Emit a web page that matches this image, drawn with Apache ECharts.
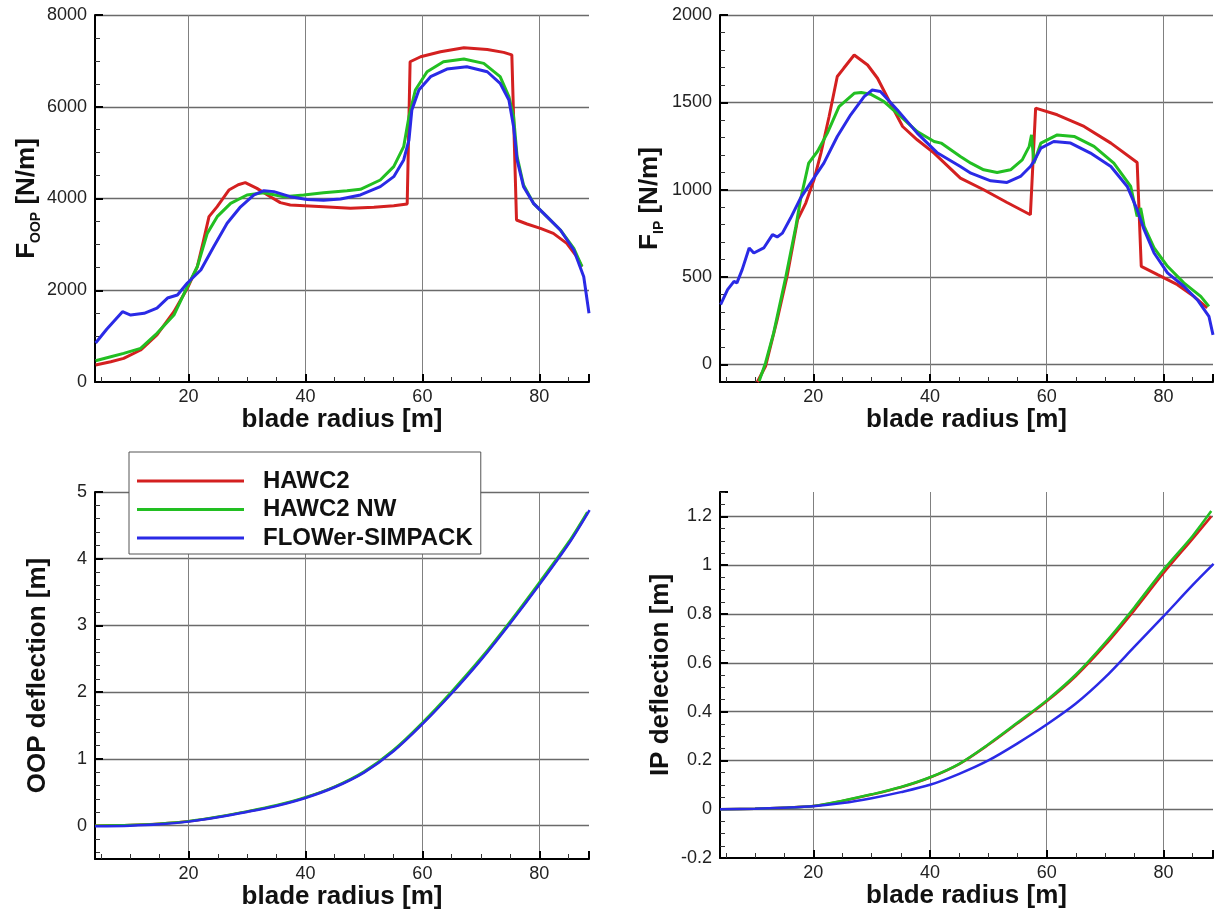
<!DOCTYPE html>
<html>
<head>
<meta charset="utf-8">
<title>Blade loads and deflections</title>
<script src="https://cdn.jsdelivr.net/npm/echarts@6/dist/echarts.min.js"></script>
<style>
  html, body { margin: 0; padding: 0; background: #fff; }
  #chart { width: 1217px; height: 910px; }
</style>
</head>
<body>
<div id="chart"></div>
<script>
// [blade radius (m), value] pairs

// F_OOP [N/m]
const foopHawc2 = [[4.1,370],[6.7,443],[8.9,516],[11.8,697],[14.6,1025],[17.5,1532],[19.8,2041],[21.5,2513],[22.5,3050],[23.5,3604],[24.9,3822],[26.9,4185],[28.5,4300],[29.7,4345],[31.7,4221],[34,4040],[35.7,3910],[37.4,3858],[43.1,3822],[47.7,3786],[51.7,3807],[55.1,3840],[57.4,3880],[57.9,6981],[59.7,7090],[63.1,7200],[67.1,7287],[71.1,7250],[73.9,7185],[75.3,7130],[76.1,3531],[77.9,3444],[80.2,3350],[82.4,3240],[84.7,3022],[86.4,2731],[87.3,2513]];
const foopHawc2Nw = [[4.1,464],[6.7,552],[8.9,625],[11.8,734],[14.6,1061],[17.5,1460],[19.8,2077],[21.5,2513],[23.2,3240],[24.9,3604],[27.2,3895],[30,4077],[32.9,4126],[36.3,4040],[39.7,4077],[43.1,4126],[47.1,4170],[49.4,4200],[52.8,4403],[55.1,4694],[56.8,5130],[57.7,5783],[58.8,6365],[60.8,6763],[63.6,6981],[67.1,7040],[70.5,6945],[73.3,6655],[74.8,6220],[75.6,5783],[76.2,4912],[77.3,4294],[79,3895],[81.3,3604],[83.6,3314],[85.9,2913],[87.3,2513]];
const foopFlower = [[4.1,850],[6,1150],[8.7,1532],[10.1,1460],[12.4,1497],[14.6,1612],[16.4,1830],[18.1,1896],[19.8,2158],[22.1,2441],[24.3,2950],[26.6,3460],[28.9,3820],[31.2,4077],[32.9,4170],[34.6,4150],[37.4,4040],[40.3,3980],[43.1,3960],[46,3990],[49.4,4077],[52.8,4258],[55.1,4476],[56.8,4840],[57.7,5275],[58.2,5930],[59.4,6365],[61.4,6655],[64.2,6822],[67.6,6872],[71.1,6763],[73.3,6510],[74.8,6147],[75.6,5565],[76.2,4840],[77.3,4258],[79,3895],[81.3,3604],[83.6,3314],[85.9,2877],[87.6,2295],[88.5,1497]];

// F_IP [N/m]
const fipHawc2 = [[10.4,-100],[11.8,-10],[13.8,257],[15.5,505],[17.3,829],[18.7,924],[20.1,1057],[21.3,1210],[22.7,1419],[24.1,1648],[25.2,1695],[27,1771],[29.3,1714],[31,1638],[33.2,1495],[35.3,1362],[37.8,1286],[40.7,1210],[45.2,1067],[49.2,1000],[53.2,927],[57.2,857],[58.1,1467],[61.8,1429],[66.4,1362],[71,1267],[75.5,1156],[76.2,562],[79,514],[82.4,457],[85.2,390],[87.5,324]];
const fipHawc2Nw = [[10.7,-95],[11.8,9],[13.2,181],[15.3,505],[17,790],[17.8,943],[19.2,1152],[20.7,1219],[22.4,1324],[24.4,1476],[27,1552],[28.2,1557],[29.8,1547],[32.1,1505],[35,1419],[37.8,1333],[40.7,1276],[41.9,1267],[45.2,1190],[47,1152],[49.2,1114],[51.5,1099],[53.8,1114],[55.8,1171],[57,1248],[57.4,1314],[57.8,1152],[59,1267],[61.8,1314],[64.7,1305],[68.1,1248],[71.5,1152],[74.4,1019],[75.5,848],[76.1,895],[76.7,790],[78.4,667],[80.7,562],[83.5,467],[86.4,390],[87.8,333]];
const fipFlower = [[4.1,343],[5.3,429],[6.4,476],[6.9,467],[7.8,543],[9,667],[9.8,638],[11.5,667],[13,743],[13.8,730],[14.7,752],[16.1,838],[17.8,952],[19.5,1038],[21.8,1152],[24.1,1305],[26.4,1429],[28.7,1533],[30.1,1571],[31.5,1562],[34.4,1457],[37.8,1324],[41.3,1210],[45.2,1133],[47,1095],[50.4,1051],[53.2,1042],[55.5,1076],[57.2,1133],[57.8,1162],[59,1238],[61.2,1276],[64.1,1267],[67.5,1210],[71,1133],[73.8,1019],[75.5,886],[76.7,771],[78.4,638],[80.7,524],[83.5,448],[85.8,371],[87.8,276],[88.5,170]];

// OOP deflection [m]
const oopHawc2 = [[4,0],[10,0.01],[15,0.03],[20,0.065],[25,0.13],[30,0.21],[35,0.3],[40,0.42],[45,0.58],[50,0.8],[55,1.12],[60,1.53],[65,1.99],[70,2.49],[75,3.04],[80,3.62],[85,4.23],[88.2,4.68]];
const oopHawc2Nw = [[4,0],[10,0.01],[15,0.03],[20,0.067],[25,0.132],[30,0.213],[35,0.305],[40,0.425],[45,0.585],[50,0.81],[55,1.13],[60,1.545],[65,2.01],[70,2.51],[75,3.06],[80,3.645],[85,4.25],[88.2,4.7]];
const oopFlower = [[4,-0.01],[10,0.0],[15,0.02],[20,0.06],[25,0.125],[30,0.205],[35,0.295],[40,0.415],[45,0.575],[50,0.795],[55,1.11],[60,1.52],[65,1.98],[70,2.48],[75,3.03],[80,3.61],[85,4.22],[88.6,4.73]];

// IP deflection [m]
const ipHawc2 = [[4,0],[10,0.002],[15,0.006],[20,0.013],[25,0.034],[30,0.06],[35,0.09],[40,0.13],[45,0.185],[50,0.264],[55,0.352],[60,0.442],[65,0.546],[70,0.672],[75,0.815],[80,0.967],[85,1.108],[88.2,1.2]];
const ipHawc2Nw = [[4,0],[10,0.002],[15,0.006],[20,0.013],[25,0.035],[30,0.061],[35,0.091],[40,0.131],[45,0.186],[50,0.266],[55,0.355],[60,0.446],[65,0.552],[70,0.682],[75,0.827],[80,0.981],[85,1.12],[88.2,1.222]];
const ipFlower = [[4,0],[10,0.002],[15,0.006],[20,0.012],[25,0.025],[30,0.045],[35,0.07],[40,0.1],[45,0.145],[50,0.2],[55,0.27],[60,0.347],[65,0.433],[70,0.54],[75,0.665],[80,0.79],[85,0.918],[88.6,1.005]];

const seriesNames = ['HAWC2', 'HAWC2 NW', 'FLOWer-SIMPACK'];
const seriesColors = ['#d42020', '#22bf22', '#2a2ae6'];

const radiusMin = 4;
const radiusMax = 88.5;

const FONT = "'Liberation Sans', Arial, Helvetica, sans-serif";

const grids = [
  { left: 95, top: 15, width: 494, height: 367 },
  { left: 720, top: 15, width: 493, height: 367 },
  { left: 95, top: 492, width: 494, height: 367 },
  { left: 720, top: 492, width: 493, height: 366 },
];

const titleStyle = { fontFamily: FONT, fontWeight: 'bold', fontSize: 26, color: '#111' };
const subRich = {
  F: { fontFamily: FONT, fontWeight: 'bold', fontSize: 26, color: '#111', lineHeight: 32 },
  s: { fontFamily: FONT, fontWeight: 'bold', fontSize: 14, color: '#111', lineHeight: 14, verticalAlign: 'bottom' },
};

const plainNumber = (v) => String(+Number(v).toFixed(6));

function xAxisFor(i) {
  return {
    type: 'value',
    gridIndex: i,
    min: radiusMin,
    max: radiusMax,
    name: 'blade radius [m]',
    nameLocation: 'middle',
    nameGap: 18,
    nameTextStyle: titleStyle,
    axisLine: { show: true, onZero: false, lineStyle: { color: '#000', width: 2 } },
    axisTick: { show: true, inside: true, length: 8, lineStyle: { color: '#000', width: 2 } },
    minorTick: { show: true, splitNumber: 4, length: 5, lineStyle: { color: '#333', width: 1 } },
    axisLabel: { fontFamily: FONT, fontSize: 18, color: '#222', margin: 6, showMinLabel: false, showMaxLabel: false, formatter: plainNumber },
    splitLine: { show: true, showMinLine: false, showMaxLine: false, lineStyle: { color: '#808080', width: 1 } },
  };
}

function yAxisFor(i, opts) {
  return Object.assign({
    type: 'value',
    gridIndex: i,
    nameLocation: 'middle',
    nameTextStyle: Object.assign({ rich: subRich }, titleStyle),
    axisLine: { show: true, onZero: false, lineStyle: { color: '#000', width: 2 } },
    axisTick: { show: true, inside: true, length: 8, lineStyle: { color: '#000', width: 2 } },
    minorTick: { show: true, splitNumber: opts.minorSplit, length: 5, lineStyle: { color: '#333', width: 1 } },
    axisLabel: { fontFamily: FONT, fontSize: 18, color: '#222', margin: 8, showMinLabel: opts.showMinLabel, showMaxLabel: opts.showMaxLabel, formatter: plainNumber },
    splitLine: { show: true, showMinLine: false, showMaxLine: opts.showMaxLine, lineStyle: { color: '#6a6a6a', width: 1.3 } },
  }, opts.axis);
}

const panelData = [
  [foopHawc2, foopHawc2Nw, foopFlower],
  [fipHawc2, fipHawc2Nw, fipFlower],
  [oopHawc2, oopHawc2Nw, oopFlower],
  [ipHawc2, ipHawc2Nw, ipFlower],
];
const lineWidths = [3, 3, 2.5, 2.5];
const smoothing = [false, false, 0.3, 0.3];

const series = [];
panelData.forEach((sets, p) => {
  sets.forEach((data, k) => {
    series.push({
      name: seriesNames[k],
      type: 'line',
      xAxisIndex: p,
      yAxisIndex: p,
      data: data,
      symbol: 'none',
      showSymbol: false,
      smooth: smoothing[p],
      clip: true,
      lineStyle: { color: seriesColors[k], width: lineWidths[p] },
      itemStyle: { color: seriesColors[k] },
      emphasis: { disabled: true },
    });
  });
});

const chart = echarts.init(document.getElementById('chart'));
chart.setOption({
  backgroundColor: '#fff',
  animation: false,
  grid: grids.map((g) => Object.assign({ containLabel: false, outerBoundsMode: 'none' }, g)),
  legend: {
    data: seriesNames,
    icon: 'rect',
    orient: 'vertical',
    left: 129,
    top: 452,
    padding: [17, 8, 4, 8],
    itemWidth: 107,
    itemHeight: 3,
    itemGap: 4.5,
    backgroundColor: '#fff',
    borderColor: '#555',
    borderWidth: 1,
    borderRadius: 0,
    selectedMode: false,
    textStyle: { fontFamily: FONT, fontWeight: 'bold', fontSize: 24, lineHeight: 24, color: '#111', padding: [0, 0, 0, 14] },
  },
  xAxis: [0, 1, 2, 3].map(xAxisFor),
  yAxis: [
    yAxisFor(0, { minorSplit: 4, showMinLabel: true, showMaxLabel: true, showMaxLine: true,
      axis: { min: 0, max: 8000, interval: 2000, name: '{F|F}{s|OOP}{F| [N/m]}', nameGap: 48 } }),
    yAxisFor(1, { minorSplit: 5, showMinLabel: false, showMaxLabel: true, showMaxLine: true,
      axis: { min: -100, max: 2000, splitNumber: 5, name: '{F|F}{s|IP}{F| [N/m]}', nameGap: 54 } }),
    yAxisFor(2, { minorSplit: 5, showMinLabel: false, showMaxLabel: true, showMaxLine: true,
      axis: { min: -0.5, max: 5, splitNumber: 5, name: 'OOP deflection [m]', nameGap: 44 } }),
    yAxisFor(3, { minorSplit: 4, showMinLabel: true, showMaxLabel: false, showMaxLine: false,
      axis: { min: -0.2, max: 1.3, interval: 0.2, name: 'IP deflection [m]', nameGap: 46 } }),
  ],
  series: series,
});
</script>
</body>
</html>
